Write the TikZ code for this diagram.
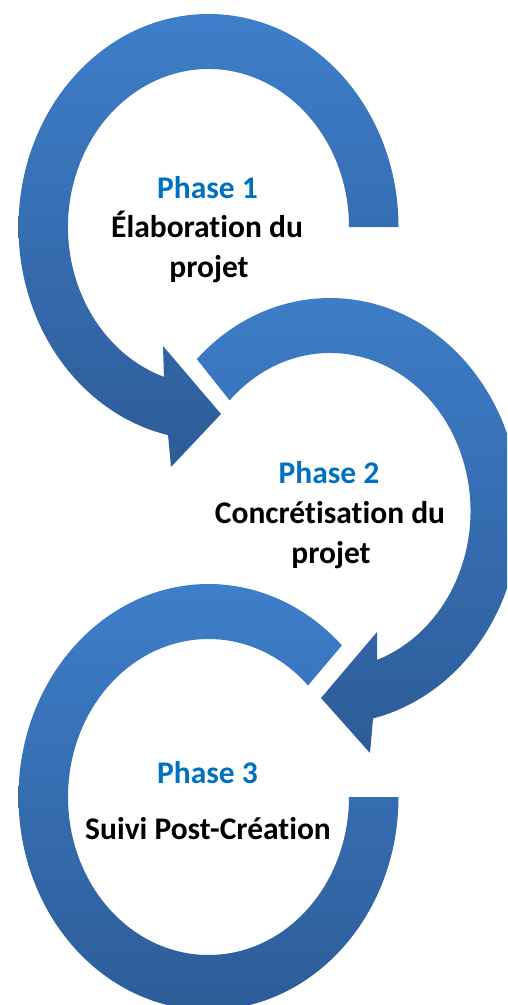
\documentclass[tikz,border=0pt]{standalone}
\usepackage{fontspec}
\setmainfont{Carlito}[Ligatures=NoCommon,RawFeature=-liga]
\usetikzlibrary{calc}
\definecolor{phaseblue}{RGB}{0,112,192}
\definecolor{bandtop}{RGB}{62,126,202}
\definecolor{bandbot}{RGB}{45,92,152}
\begin{document}
\begin{tikzpicture}[x=1pt,y=-1pt,
  band/.style={top color=bandtop,bottom color=bandbot,draw=none},
  phasetitle/.style={anchor=base,text=phaseblue,inner sep=0pt,font=\fontsize{31.5}{38}\selectfont\bfseries},
  phasetext/.style={anchor=base,text=black,inner sep=0pt,font=\fontsize{31.5}{38}\selectfont\bfseries}]
\useasboundingbox (0,0) rectangle (507,1005);
\clip (0,0) rectangle (507,1005);
\coordinate (c1) at (208.5,227);
\coordinate (c2) at (330,511);
\coordinate (c3) at (208.5,797);
% circle 1 with arrow head
\shade[band] ($(c1)+(0:190 and 213)$)
  arc[start angle=0,end angle=-257.7,x radius=190,y radius=213]
  -- (171,467) -- (221,414) -- (163,346)
  -- ($(c1)+(-251.5:140.5 and 158)$)
  arc[start angle=-251.5,end angle=0,x radius=140.5,y radius=158] -- cycle;
% circle 2 with arrow head
\shade[band] ($(c2)+(-134.5:190 and 213)$)
  arc[start angle=-134.5,end angle=76.9,x radius=190,y radius=213]
  -- (370,753) -- (321,698) -- (377,632)
  -- ($(c2)+(70.4:140.5 and 158)$)
  arc[start angle=70.4,end angle=-135.6,x radius=140.5,y radius=158] -- cycle;
% circle 3
\shade[band] ($(c3)+(0:190 and 213)$)
  arc[start angle=0,end angle=314.6,x radius=190,y radius=213]
  -- ($(c3)+(315.1:140.5 and 158)$)
  arc[start angle=315.1,end angle=0,x radius=140.5,y radius=158] -- cycle;
% texts
\node[phasetitle] (p1) at (207.5,198) {Phase 1};
\node[phasetext] (t1a) at (207,237) {Élaboration du};
\node[phasetext] (t1b) at (209,277) {projet};
\node[phasetitle] (p2) at (329,483) {Phase 2};
\node[phasetext] (t2a) at (330,523) {Concrétisation du};
\node[phasetext] (t2b) at (331,563) {projet};
\node[phasetitle] (p3) at (207.5,783) {Phase 3};
\node[phasetext] (t3) at (208,839) {Suivi Post-Création};
\end{tikzpicture}
\end{document}
